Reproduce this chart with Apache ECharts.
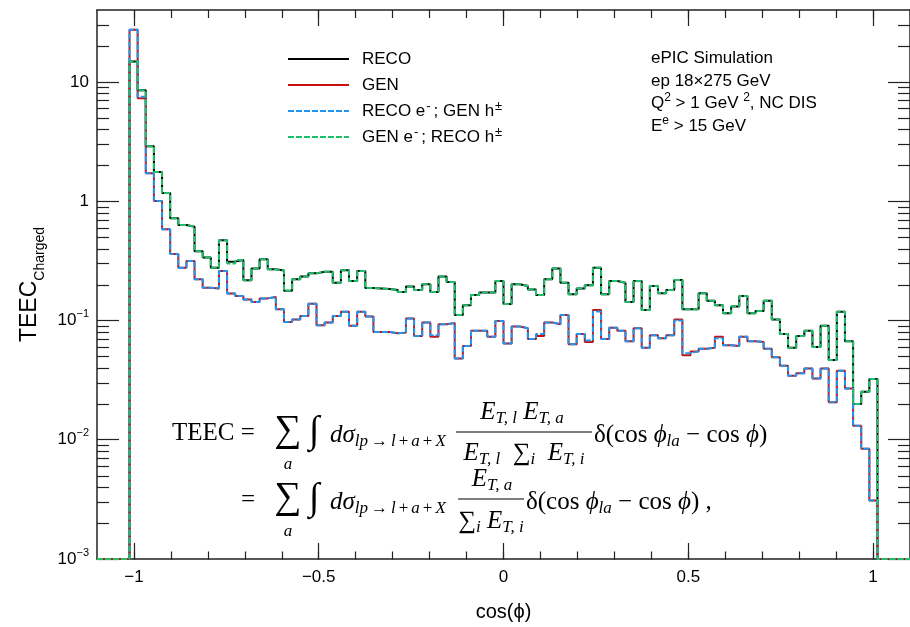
<!DOCTYPE html>
<html>
<head>
<meta charset="utf-8">
<script src="https://cdn.jsdelivr.net/npm/echarts@6/dist/echarts.min.js"></script>
<style>
html, body { margin: 0; padding: 0; background: #fff; }
#chart { width: 910px; height: 627px; }
</style>
</head>
<body>
<div id="chart"></div>
<script>
// histogram: bins of width 0.022 on [-1.1, 1.1], only filled bins listed (from -1.012 to 1.012)
var binStart = -1.012;
var binWidth = 0.022;
var xMin = -1.1, xMax = 1.1;
var yMin = 0.001, yMax = 40;

var reco = [
  14.8, 8.5, 2.89, 1.75, 1.17, 0.72, 0.63, 0.61, 0.38, 0.336,
  0.277, 0.469, 0.311, 0.321, 0.217, 0.273, 0.325, 0.268, 0.262, 0.177,
  0.221, 0.233, 0.248, 0.256, 0.256, 0.207, 0.263, 0.214, 0.26, 0.187,
  0.185, 0.183, 0.18, 0.173, 0.192, 0.18, 0.201, 0.173, 0.233, 0.21,
  0.111, 0.134, 0.163, 0.171, 0.171, 0.214, 0.137, 0.201, 0.194, 0.182,
  0.163, 0.221, 0.272, 0.207, 0.166, 0.185, 0.197, 0.277, 0.166, 0.214,
  0.207, 0.143, 0.214, 0.122, 0.194, 0.169, 0.18, 0.218, 0.124, 0.124,
  0.169, 0.146, 0.134, 0.115, 0.131, 0.16, 0.115, 0.12, 0.146, 0.102,
  0.077, 0.059, 0.074, 0.082, 0.06, 0.09, 0.0465, 0.118, 0.067, 0.0199,
  0.0252, 0.0322
];
var gen = [
  27.3, 7.3, 1.71, 1.0, 0.58, 0.36, 0.277, 0.315, 0.221, 0.188,
  0.185, 0.26, 0.168, 0.16, 0.150, 0.143, 0.153, 0.157, 0.124, 0.097,
  0.102, 0.109, 0.138, 0.091, 0.096, 0.109, 0.118, 0.090, 0.118, 0.108,
  0.080, 0.080, 0.078, 0.079, 0.104, 0.074, 0.096, 0.073, 0.093, 0.095,
  0.048, 0.061, 0.082, 0.082, 0.073, 0.099, 0.064, 0.089, 0.086, 0.070,
  0.074, 0.096, 0.093, 0.111, 0.063, 0.077, 0.066, 0.122, 0.070, 0.087,
  0.082, 0.067, 0.086, 0.059, 0.075, 0.071, 0.075, 0.102, 0.051, 0.055,
  0.058, 0.059, 0.073, 0.062, 0.061, 0.073, 0.067, 0.066, 0.058, 0.049,
  0.0416, 0.0343, 0.0361, 0.0395, 0.0326, 0.0395, 0.0206, 0.0378, 0.0269, 0.0131,
  0.0084, 0.0031
];
var recoEGenH = [
  27.3, 7.5, 1.71, 1.0, 0.58, 0.36, 0.277, 0.315, 0.221, 0.188,
  0.185, 0.26, 0.168, 0.16, 0.150, 0.143, 0.153, 0.157, 0.124, 0.097,
  0.102, 0.109, 0.138, 0.091, 0.096, 0.109, 0.118, 0.090, 0.118, 0.108,
  0.080, 0.080, 0.078, 0.079, 0.104, 0.074, 0.096, 0.075, 0.093, 0.095,
  0.048, 0.061, 0.082, 0.082, 0.073, 0.099, 0.064, 0.089, 0.086, 0.070,
  0.077, 0.096, 0.093, 0.111, 0.063, 0.077, 0.068, 0.119, 0.070, 0.087,
  0.082, 0.067, 0.086, 0.059, 0.075, 0.071, 0.075, 0.100, 0.053, 0.055,
  0.058, 0.059, 0.071, 0.062, 0.061, 0.073, 0.067, 0.066, 0.058, 0.049,
  0.0416, 0.0343, 0.0361, 0.0395, 0.0326, 0.0395, 0.0206, 0.0378, 0.0269, 0.0131,
  0.0084, 0.0031
];
var genERecoH = [
  14.8, 8.5, 2.89, 1.75, 1.17, 0.72, 0.63, 0.61, 0.38, 0.336,
  0.277, 0.469, 0.30, 0.321, 0.217, 0.273, 0.325, 0.268, 0.262, 0.177,
  0.221, 0.233, 0.248, 0.256, 0.256, 0.207, 0.263, 0.214, 0.26, 0.187,
  0.185, 0.183, 0.18, 0.173, 0.192, 0.18, 0.201, 0.173, 0.233, 0.21,
  0.111, 0.134, 0.163, 0.171, 0.171, 0.214, 0.137, 0.201, 0.194, 0.182,
  0.163, 0.221, 0.272, 0.207, 0.166, 0.185, 0.197, 0.277, 0.166, 0.214,
  0.207, 0.143, 0.214, 0.122, 0.194, 0.169, 0.18, 0.218, 0.124, 0.124,
  0.169, 0.146, 0.134, 0.115, 0.131, 0.16, 0.115, 0.12, 0.146, 0.102,
  0.077, 0.059, 0.074, 0.082, 0.06, 0.09, 0.0465, 0.118, 0.067, 0.0199,
  0.0252, 0.0322
];

var xLabels = [-1, -0.5, 0, 0.5, 1];
var xMinorTicks = [-1, -0.9, -0.8, -0.7, -0.6, -0.5, -0.4, -0.3, -0.2, -0.1, 0,
  0.1, 0.2, 0.3, 0.4, 0.5, 0.6, 0.7, 0.8, 0.9, 1];
var yLabels = [0.001, 0.01, 0.1, 1, 10];
var yMinorTicks = [0.002, 0.003, 0.004, 0.005, 0.006, 0.007, 0.008, 0.009,
  0.02, 0.03, 0.04, 0.05, 0.06, 0.07, 0.08, 0.09,
  0.2, 0.3, 0.4, 0.5, 0.6, 0.7, 0.8, 0.9,
  2, 3, 4, 5, 6, 7, 8, 9, 20, 30];

var sans = 'Liberation Sans';
var serif = 'Liberation Serif';
var axisColor = '#222';

// y is drawn on a log10 scale
function lg(v) { return Math.log10(v); }

function steps(vals) {
  var pts = [[xMin, lg(yMin)]];
  for (var i = 0; i < vals.length; i++) {
    pts.push([binStart + i * binWidth, lg(vals[i])]);
  }
  pts.push([binStart + vals.length * binWidth, lg(yMin)]);
  pts.push([xMax, lg(yMin)]);
  return pts;
}

function fmtX(v) {
  return v < 0 ? '\u2212' + (-v) : String(v);
}
function fmtY(v) {
  var n = Math.round(v);
  if (n === 0) return '1';
  if (n === 1) return '10';
  return '10{sup|' + (n < 0 ? '\u2212' + (-n) : n) + '}';
}

var legendRich = {
  'RECO': 'RECO',
  'GEN': 'GEN',
  'RECO e-; GEN h\u00b1': 'RECO e{sup|-}; GEN h{sup|\u00b1}',
  'GEN e-; RECO h\u00b1': 'GEN e{sup|-}; RECO h{sup|\u00b1}'
};

function xAx(grid, pos, major) {
  return {
    gridIndex: grid, type: 'value', position: pos, min: xMin, max: xMax,
    axisLine: { show: major, onZero: false, lineStyle: { color: axisColor, width: 1.5 } },
    axisTick: { show: true, inside: true, length: major ? 16 : 8,
      customValues: major ? xLabels : xMinorTicks,
      lineStyle: { color: axisColor, width: 1.2 } },
    axisLabel: { show: false },
    splitLine: { show: false }
  };
}
function yAx(grid, pos, major) {
  return {
    gridIndex: grid, type: 'value', position: pos, min: lg(yMin), max: lg(yMax),
    axisLine: { show: major, onZero: false, lineStyle: { color: axisColor, width: 1.5 } },
    axisTick: { show: true, inside: true, length: major ? 22 : 12,
      customValues: (major ? yLabels : yMinorTicks).map(lg),
      lineStyle: { color: axisColor, width: 1.2 } },
    axisLabel: { show: false },
    splitLine: { show: false }
  };
}

var xBottom = xAx(0, 'bottom', true);
xBottom.axisLabel = { show: true, customValues: xLabels, formatter: fmtX, margin: 10,
  fontSize: 17, color: '#000', fontFamily: sans };
xBottom.name = 'cos(\u03d5)';
xBottom.nameLocation = 'middle';
xBottom.nameGap = 43;
xBottom.nameTextStyle = { fontSize: 20, color: '#000', fontFamily: sans };

var yLeft = yAx(0, 'left', true);
yLeft.axisLabel = { show: true, customValues: yLabels.map(lg), formatter: fmtY, margin: 8,
  fontSize: 17, color: '#000', fontFamily: sans, lineHeight: 24,
  rich: { sup: { fontSize: 11, lineHeight: 12, verticalAlign: 'top', color: '#000', fontFamily: sans } } };
yLeft.name = '{a|TEEC}{b|Charged}';
yLeft.nameLocation = 'middle';
yLeft.nameRotate = 90;
yLeft.nameGap = 43;
yLeft.nameTextStyle = { color: '#000', fontFamily: sans,
  rich: {
    a: { fontSize: 23, lineHeight: 34, color: '#000', fontFamily: sans },
    b: { fontSize: 14, lineHeight: 14, verticalAlign: 'bottom', color: '#000', fontFamily: sans }
  } };

function hist(name, vals, color, dashed, z) {
  return {
    name: name, type: 'line', step: 'end', data: steps(vals),
    xAxisIndex: 0, yAxisIndex: 0, symbol: 'none', z: z,
    lineStyle: { color: color, width: 2, type: dashed ? [6, 2] : 'solid' },
    itemStyle: { color: color }
  };
}

// formula pieces
var mathRich = {
  n: { fontSize: 25, fontFamily: serif, color: '#000', lineHeight: 30 },
  i: { fontSize: 25, fontFamily: serif, fontStyle: 'italic', color: '#000', lineHeight: 30 },
  s: { fontSize: 17, fontFamily: serif, fontStyle: 'italic', color: '#000', lineHeight: 17, verticalAlign: 'bottom' },
  o: { fontSize: 17, fontFamily: serif, color: '#000', lineHeight: 17, verticalAlign: 'bottom', padding: [0, 3, 0, 3] }
};
function mtext(x, y, text, align) {
  return { type: 'text', x: x, y: y, silent: true,
    style: { text: text, rich: mathRich, align: align || 'left', verticalAlign: 'middle',
      font: '25px ' + serif, fill: '#000' } };
}
function msym(x, y, text, size, italic) {
  return { type: 'text', x: x, y: y, silent: true,
    style: { text: text, align: 'center', verticalAlign: 'middle',
      font: (italic ? 'italic ' : '') + size + 'px ' + serif, fill: '#000' } };
}
function bar(x1, x2, y) {
  return { type: 'line', silent: true, shape: { x1: x1, y1: y, x2: x2, y2: y },
    style: { stroke: '#000', lineWidth: 1.2 } };
}

var y1 = 433, y2 = 500;
var dsig = '{i|d\u03c3}{s|lp}{o|\u2192}{s|l}{o|+}{s|a}{o|+}{s|X}';
var deltaPart = '{n|\u03b4(cos }{i|\u03d5}{s|la}{n| \u2212 cos }{i|\u03d5}{n|)}';
var formula = [
  mtext(172, y1, '{n|TEEC =}'),
  msym(288, y1 - 2, '\u2211', 38, false),
  msym(288, y1 + 32, 'a', 17, true),
  msym(314, y1 - 1, '\u222b', 38, true),
  mtext(330, y1 + 2, dsig),
  mtext(522, y1 - 21, '{i|E}{s|T, l}{i| E}{s|T, a}', 'center'),
  bar(456, 592, y1 - 1),
  mtext(524, y1 + 20, '{i|E}{s|T, l}{n|  \u2211}{s|i}{n|  }{i|E}{s|T, i}', 'center'),
  mtext(594, y1 + 2, deltaPart),

  mtext(241, y2, '{n|=}'),
  msym(288, y2 - 2, '\u2211', 38, false),
  msym(288, y2 + 32, 'a', 17, true),
  msym(314, y2 - 1, '\u222b', 38, true),
  mtext(330, y2 + 2, dsig),
  mtext(492, y2 - 21, '{i|E}{s|T, a}', 'center'),
  bar(458, 524, y2 - 1),
  mtext(491, y2 + 21, '{n|\u2211}{s|i}{n| }{i|E}{s|T, i}', 'center'),
  mtext(526, y2 + 2, deltaPart + '{n| ,}')
];

var infoRich = {
  sup: { fontSize: 12, lineHeight: 12, verticalAlign: 'top', fontFamily: sans, color: '#000' }
};
function info(y, text) {
  return { type: 'text', x: 651, y: y, silent: true,
    style: { text: text, rich: infoRich, align: 'left', verticalAlign: 'middle',
      font: '17px ' + sans, fill: '#000', lineHeight: 22 } };
}
var infoText = [
  info(58, 'ePIC Simulation'),
  info(81, 'ep 18\u00d7275 GeV'),
  info(103, 'Q{sup|2} > 1 GeV {sup|2}, NC DIS'),
  info(126, 'E{sup|e} > 15 GeV')
];

var chart = echarts.init(document.getElementById('chart'));
chart.setOption({
  animation: false,
  backgroundColor: '#fff',
  grid: [
    { left: 97, right: -3, top: 10, bottom: 67.5, containLabel: false },
    { left: 97, right: -3, top: 10, bottom: 67.5, containLabel: false }
  ],
  xAxis: [xBottom, xAx(0, 'top', true), xAx(1, 'bottom', false), xAx(1, 'top', false)],
  yAxis: [yLeft, yAx(0, 'right', true), yAx(1, 'left', false), yAx(1, 'right', false)],
  legend: {
    orient: 'vertical', left: 282, top: 43,
    itemWidth: 61, itemHeight: 14, itemGap: 4,
    data: ['RECO', 'GEN', 'RECO e-; GEN h\u00b1', 'GEN e-; RECO h\u00b1'],
    formatter: function (name) { return legendRich[name]; },
    itemStyle: { opacity: 0 },
    textStyle: { fontSize: 17, color: '#000', fontFamily: sans, lineHeight: 22,
      padding: [0, 0, 0, 8],
      rich: { sup: { fontSize: 13, lineHeight: 12, verticalAlign: 'top', color: '#000', fontFamily: sans,
        padding: [0, 3, 0, 1] } } }
  },
  graphic: infoText.concat(formula),
  series: [
    hist('RECO', reco, '#000000', false, 2),
    hist('GEN', gen, '#c80f0f', false, 2),
    hist('RECO e-; GEN h\u00b1', recoEGenH, '#2196f0', true, 3),
    hist('GEN e-; RECO h\u00b1', genERecoH, '#1fc06a', true, 3)
  ]
});
</script>
</body>
</html>
